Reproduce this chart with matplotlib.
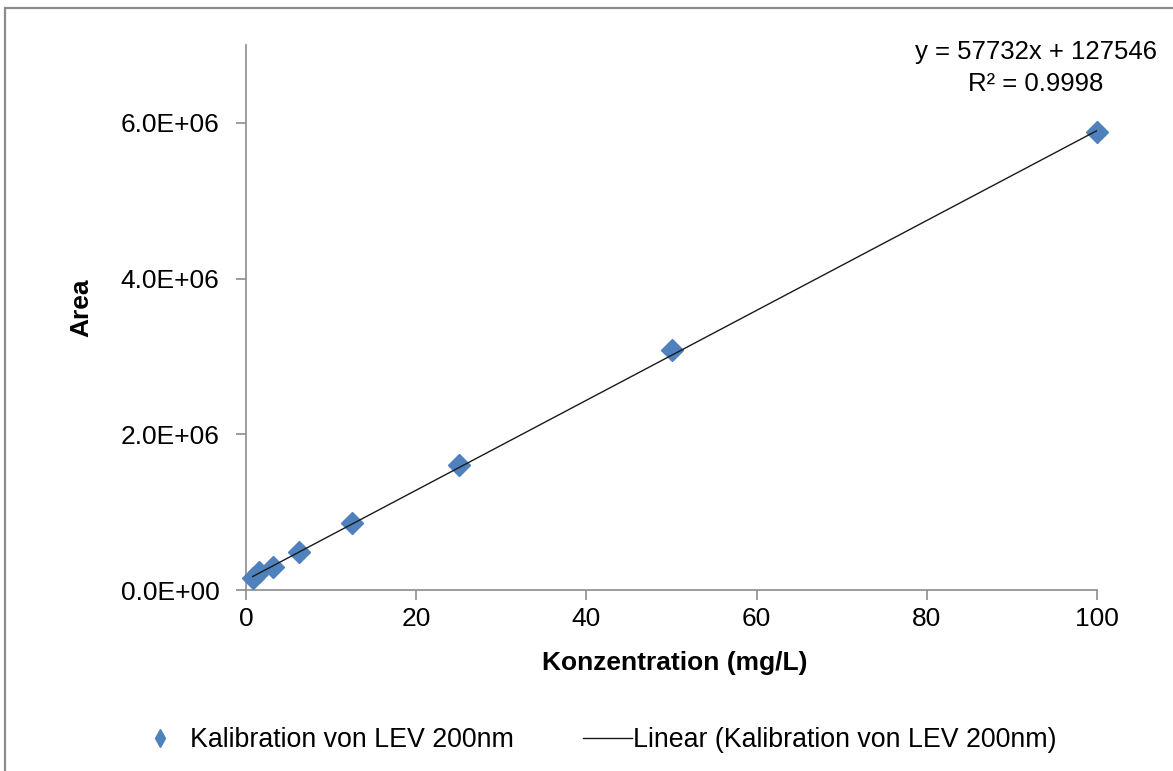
import matplotlib
matplotlib.use("Agg")
import matplotlib.pyplot as plt
import numpy as np
from matplotlib.ticker import FuncFormatter
from matplotlib.lines import Line2D
from matplotlib.patches import Rectangle

plt.rcParams['font.family'] = ['Liberation Sans', 'DejaVu Sans']

# data
konzentration = [0.78125, 1.5625, 3.125, 6.25, 12.5, 25, 50, 100]
area = [0.155e6, 0.23e6, 0.30e6, 0.49e6, 0.865e6, 1.60e6, 3.08e6, 5.88e6]
slope = 57732
intercept = 127546
r_squared = 0.9998
x_ticks = [0, 20, 40, 60, 80, 100]
y_ticks = [0, 2e6, 4e6, 6e6]
series_label = "Kalibration von LEV 200nm"
trend_label = "Linear (Kalibration von LEV 200nm)"

W, H = 1173, 771
fig = plt.figure(figsize=(W / 100, H / 100), dpi=100)
ax = fig.add_axes([246/W, 1-590/H, (1097-246)/W, (590-45)/H])

# figure frame
fig.patches.append(Rectangle((5/W, -0.05), 1.2, (H-8)/H + 0.05,
                             transform=fig.transFigure, fill=False,
                             edgecolor='#8c8c8c', linewidth=1.6, zorder=0))

blue = '#4F81BD'
ax.plot(konzentration, area, linestyle='none', marker='D', markersize=11.5,
        color=blue, markeredgecolor=blue, zorder=3, clip_on=False)
xl = np.array([min(konzentration), max(konzentration)])
ax.plot(xl, slope * xl + intercept, color='#1a1a1a', linewidth=1.0, zorder=4)

ax.set_xlim(0, 100)
ax.set_ylim(0, 7e6)
ax.set_xticks(x_ticks)
ax.set_yticks(y_ticks)
ax.yaxis.set_major_formatter(FuncFormatter(lambda v, p: "%.1E" % v))

for s in ['top', 'right']:
    ax.spines[s].set_visible(False)
for s in ['left', 'bottom']:
    ax.spines[s].set_color('#8c8c8c')
    ax.spines[s].set_linewidth(1.2)
ax.tick_params(axis='both', colors='#8c8c8c', labelcolor='black',
               labelsize=19, length=7, width=1.2, direction='out')
ax.tick_params(axis='y', pad=12)
ax.tick_params(axis='x', pad=5)

ax.set_xlabel("Konzentration (mg/L)", fontsize=19, fontweight='bold')
ax.set_ylabel("Area", fontsize=19, fontweight='bold')
ax.xaxis.set_label_coords(0.504, -(651-590)/545)
ax.yaxis.set_label_coords((93.5-246)/851, (590-307.5)/545)

fig.text(1036/W, 1-68/H,
         "y = %dx + %d\nR² = %.4f" % (slope, intercept, r_squared),
         ha='center', va='center', fontsize=18.5, linespacing=1.38)

fs = 19.3
fs_px = fs * 100 / 72
h1 = Line2D([], [], linestyle='none', marker='d', markersize=9, color=blue)
h2 = Line2D([], [], color='#1a1a1a', linewidth=1.0)
leg1 = fig.legend([h1], [series_label], loc='center left',
                  bbox_to_anchor=((160 - fs_px / 2) / W, 1-740/H), frameon=False,
                  fontsize=fs, handlelength=1.0, handletextpad=(190-160-fs_px/2)/fs_px,
                  borderpad=0, borderaxespad=0)
leg2 = fig.legend([h2], [trend_label], loc='center left',
                  bbox_to_anchor=(583/W, 1-740/H), frameon=False,
                  fontsize=fs, handlelength=49/fs_px, handletextpad=0.04,
                  borderpad=0, borderaxespad=0)

fig.savefig("out.png", dpi=100)
